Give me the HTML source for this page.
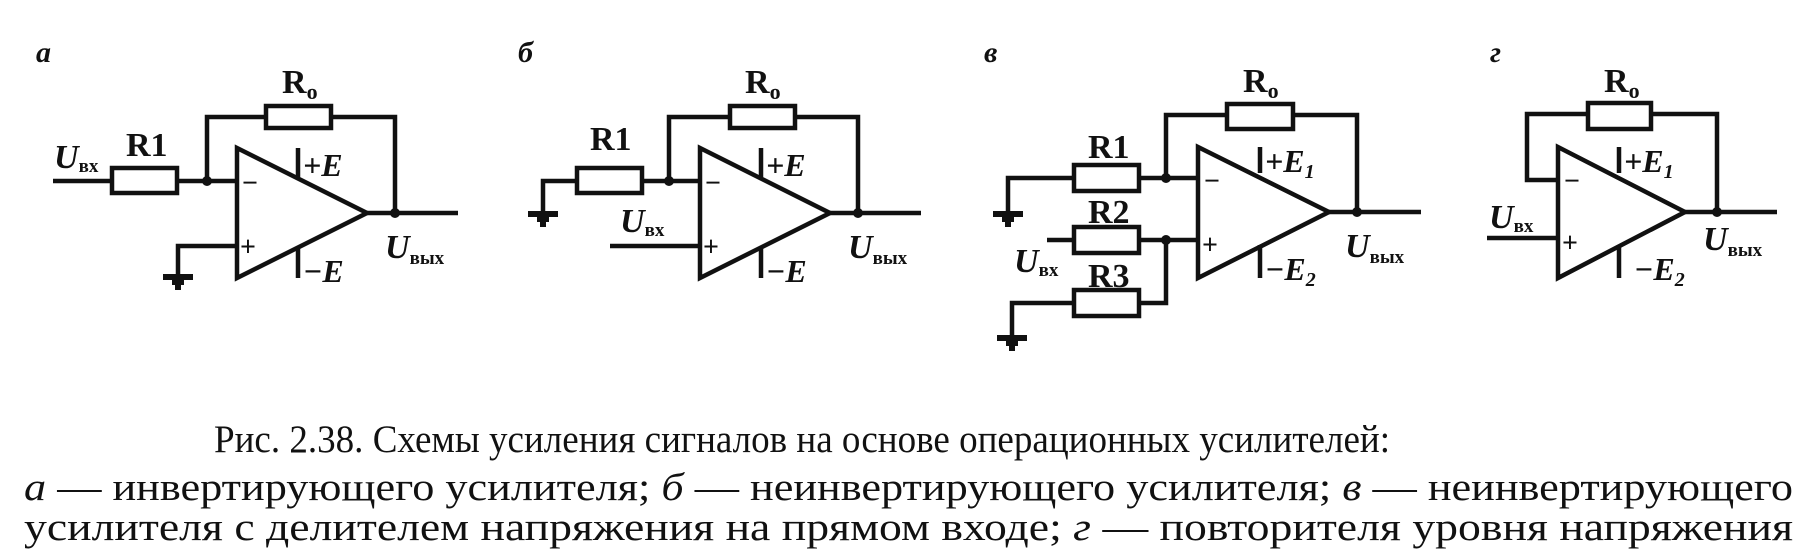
<!DOCTYPE html>
<html><head><meta charset="utf-8"><style>
html,body{margin:0;padding:0;background:#fff;}
svg{display:block}
text{font-family:"Liberation Serif",serif;fill:#111}
.b{font-weight:bold}
.i{font-style:italic;font-weight:bold}
</style></head><body>
<svg width="1802" height="552" viewBox="0 0 1802 552" xmlns="http://www.w3.org/2000/svg">
<g stroke="#111" stroke-width="4.5" fill="none" stroke-linejoin="miter">
<path d="M53 181H112M177 181H237M207 181V117H266M331 117H395V213M367 213H458M237 246H178V276"/>
<rect x="112" y="168" width="65" height="25"/>
<rect x="266" y="106" width="65" height="22"/>
<polygon points="237,148 237,278 367,213"/>
<path d="M298 148V177M298 248V278"/>
<path d="M543 213V181H577M642 181H700M669 181V117H730M795 117H858V213M830 213H921M610 246H700"/>
<rect x="577" y="168" width="65" height="25"/>
<rect x="730" y="106" width="65" height="22"/>
<polygon points="700,148 700,278 830,213"/>
<path d="M761 148V177M761 248V278"/>
<path d="M1008 213V178H1074M1139 178H1198M1166 178V115H1227M1293 115H1357V212M1329 212H1421M1047 240H1074M1139 240H1198M1012 337V303H1074M1139 303H1166V240"/>
<rect x="1074" y="165" width="65" height="26"/>
<rect x="1074" y="227" width="65" height="26"/>
<rect x="1074" y="290" width="65" height="26"/>
<rect x="1227" y="104" width="66" height="25"/>
<polygon points="1198,147 1198,278 1329,212"/>
<path d="M1260 147V173M1260 245V278"/>
<path d="M1558 180H1527V114H1588M1651 114H1717V212M1685 212H1777M1487 238H1558"/>
<rect x="1588" y="103" width="63" height="26"/>
<polygon points="1558,147 1558,278 1685,212"/>
<path d="M1619 147V173M1619 245V278"/>
</g>
<g fill="#111">
<circle cx="207" cy="181" r="5"/><circle cx="395" cy="213" r="5"/>
<circle cx="669" cy="181" r="5"/><circle cx="858" cy="213" r="5"/>
<circle cx="1166" cy="178" r="5"/><circle cx="1166" cy="240" r="5"/><circle cx="1357" cy="212" r="5"/>
<circle cx="1717" cy="212" r="5"/>
<rect x="163" y="274" width="30" height="6"/><rect x="172" y="280" width="12" height="5"/><rect x="175" y="276" width="6" height="14"/>
<rect x="528" y="211" width="30" height="6"/><rect x="537" y="217" width="12" height="5"/><rect x="540" y="213" width="6" height="14"/>
<rect x="993" y="211" width="30" height="6"/><rect x="1002" y="217" width="12" height="5"/><rect x="1005" y="213" width="6" height="14"/>
<rect x="997" y="335" width="30" height="6"/><rect x="1006" y="341" width="12" height="5"/><rect x="1009" y="337" width="6" height="14"/>
</g>
<g font-size="30">
<text x="36" y="62" class="i">а</text>
<text x="126" y="156" class="b" font-size="34">R1</text>
<text x="282" y="93" class="b" font-size="34">R<tspan font-size="22" dy="6">o</tspan></text>
<text x="54" y="168" class="i" font-size="34">U<tspan font-size="19" dy="4" font-style="normal">вх</tspan></text>
<text x="303" y="176" class="i" font-size="32">+E</text>
<text x="303" y="282" class="i" font-size="32">−E</text>
<text x="385" y="258" class="i" font-size="34">U<tspan font-size="19" dy="6" font-style="normal">вых</tspan></text>
<text x="242" y="192" class="b" font-size="28">−</text>
<text x="240" y="256" class="b" font-size="28">+</text>
<text x="518" y="62" class="i">б</text>
<text x="590" y="150" class="b" font-size="34">R1</text>
<text x="745" y="93" class="b" font-size="34">R<tspan font-size="22" dy="6">o</tspan></text>
<text x="620" y="232" class="i" font-size="34">U<tspan font-size="19" dy="4" font-style="normal">вх</tspan></text>
<text x="766" y="176" class="i" font-size="32">+E</text>
<text x="766" y="282" class="i" font-size="32">−E</text>
<text x="848" y="258" class="i" font-size="34">U<tspan font-size="19" dy="6" font-style="normal">вых</tspan></text>
<text x="705" y="192" class="b" font-size="28">−</text>
<text x="703" y="256" class="b" font-size="28">+</text>
<text x="984" y="62" class="i">в</text>
<text x="1088" y="158" class="b" font-size="34">R1</text>
<text x="1088" y="223" class="b" font-size="34">R2</text>
<text x="1088" y="287" class="b" font-size="34">R3</text>
<text x="1243" y="92" class="b" font-size="34">R<tspan font-size="22" dy="6">o</tspan></text>
<text x="1014" y="272" class="i" font-size="34">U<tspan font-size="19" dy="4" font-style="normal">вх</tspan></text>
<text x="1265" y="172" class="i" font-size="32">+E<tspan font-size="20" dy="6">1</tspan></text>
<text x="1265" y="280" class="i" font-size="32">−E<tspan font-size="20" dy="6">2</tspan></text>
<text x="1345" y="257" class="i" font-size="34">U<tspan font-size="19" dy="6" font-style="normal">вых</tspan></text>
<text x="1204" y="190" class="b" font-size="28">−</text>
<text x="1202" y="254" class="b" font-size="28">+</text>
<text x="1490" y="62" class="i">г</text>
<text x="1604" y="92" class="b" font-size="34">R<tspan font-size="22" dy="6">o</tspan></text>
<text x="1489" y="228" class="i" font-size="34">U<tspan font-size="19" dy="4" font-style="normal">вх</tspan></text>
<text x="1624" y="172" class="i" font-size="32">+E<tspan font-size="20" dy="6">1</tspan></text>
<text x="1634" y="280" class="i" font-size="32">−E<tspan font-size="20" dy="6">2</tspan></text>
<text x="1703" y="250" class="i" font-size="34">U<tspan font-size="19" dy="6" font-style="normal">вых</tspan></text>
<text x="1564" y="190" class="b" font-size="28">−</text>
<text x="1562" y="252" class="b" font-size="28">+</text>
</g>
<g font-size="39">
<text x="214" y="452" textLength="1176" lengthAdjust="spacingAndGlyphs">Рис. 2.38. Схемы усиления сигналов на основе операционных усилителей:</text>
<text x="24" y="500" textLength="1769" lengthAdjust="spacingAndGlyphs"><tspan font-style="italic">а</tspan> — инвертирующего усилителя; <tspan font-style="italic">б</tspan> — неинвертирующего усилителя; <tspan font-style="italic">в</tspan> — неинвертирующего</text>
<text x="24" y="540" textLength="1769" lengthAdjust="spacingAndGlyphs">усилителя с делителем напряжения на прямом входе; <tspan font-style="italic">г</tspan> — повторителя уровня напряжения</text>
</g>
</svg>
</body></html>
